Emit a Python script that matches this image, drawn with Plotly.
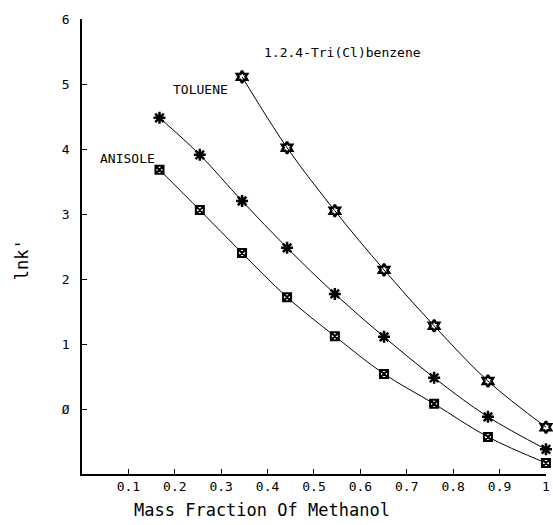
import plotly.graph_objects as go

mass_fraction = [0.167, 0.254, 0.345, 0.442, 0.545, 0.651, 0.759, 0.875, 1.0]
anisole = [3.68, 3.06, 2.40, 1.72, 1.12, 0.54, 0.08, -0.43, -0.83]
toluene = [4.48, 3.91, 3.20, 2.48, 1.77, 1.11, 0.48, -0.12, -0.62]
tri_x = [0.345, 0.442, 0.545, 0.651, 0.759, 0.875, 1.0]
tri_cl_benzene = [5.11, 4.02, 3.05, 2.14, 1.28, 0.43, -0.28]

x_ticks = [0.1, 0.2, 0.3, 0.4, 0.5, 0.6, 0.7, 0.8, 0.9, 1.0]
x_tick_labels = ["0.1", "0.2", "0.3", "0.4", "0.5", "0.6", "0.7", "0.8", "0.9", "1"]
y_ticks = [0, 1, 2, 3, 4, 5, 6]
y_tick_labels = ["Ø", "1", "2", "3", "4", "5", "6"]

FONT = "DejaVu Sans Mono"
fig = go.Figure()
fig.add_trace(go.Scatter(x=mass_fraction, y=anisole, mode="lines+markers", cliponaxis=False,
                         line=dict(color="black", width=1, shape="spline"),
                         marker=dict(symbol="square-x-open", size=8, color="black", line=dict(width=2))))
fig.add_trace(go.Scatter(x=mass_fraction, y=toluene, mode="lines+markers", cliponaxis=False,
                         line=dict(color="black", width=1, shape="spline"),
                         marker=dict(symbol="asterisk-open", size=10, color="black", line=dict(width=2.5))))
fig.add_trace(go.Scatter(x=tri_x, y=tri_cl_benzene, mode="lines+markers", cliponaxis=False,
                         line=dict(color="black", width=1, shape="spline"),
                         marker=dict(symbol="hexagram-open", size=9, color="black", line=dict(width=2.5))))

annotations = [
    dict(x=0.097, y=3.85, text="ANISOLE", showarrow=False, xanchor="center", yanchor="middle"),
    dict(x=0.255, y=4.91, text="TOLUENE", showarrow=False, xanchor="center", yanchor="middle"),
    dict(x=0.561, y=5.48, text="1.2.4-Tri(Cl)benzene", showarrow=False, xanchor="center", yanchor="middle"),
]
for a in annotations:
    a["font"] = dict(family=FONT, size=13, color="black")
annotations.append(dict(xref="paper", yref="paper", x=0.389, y=-0.08, text="Mass Fraction Of Methanol",
                        showarrow=False, xanchor="center", yanchor="middle",
                        font=dict(family=FONT, size=17, color="black")))
annotations.append(dict(xref="paper", yref="paper", x=-0.129, y=0.47, text="lnk'", textangle=-90,
                        showarrow=False, xanchor="center", yanchor="middle",
                        font=dict(family=FONT, size=17, color="black")))

fig.update_layout(
    width=553, height=525,
    margin=dict(l=82, r=7, t=19, b=51),
    paper_bgcolor="white", plot_bgcolor="white",
    showlegend=False,
    annotations=annotations,
    font=dict(family=FONT, size=13, color="black"),
    xaxis=dict(range=[0, 1.0001], tickvals=x_ticks, ticktext=x_tick_labels, automargin=False,
               showgrid=False, zeroline=False, showline=True, linecolor="black", linewidth=1.5,
               ticks="inside", ticklen=5, tickcolor="black", tickwidth=1.2),
    yaxis=dict(range=[-1, 6], tickvals=y_ticks, ticktext=y_tick_labels, automargin=False,
               ticklabelstandoff=8,
               showgrid=False, zeroline=False, showline=True, linecolor="black", linewidth=1.5,
               ticks="inside", ticklen=5, tickcolor="black", tickwidth=1.2),
)
fig.write_html("out.html", config={"displayModeBar": False},
               post_script="document.body.style.margin='0';document.body.style.overflow='hidden';")
